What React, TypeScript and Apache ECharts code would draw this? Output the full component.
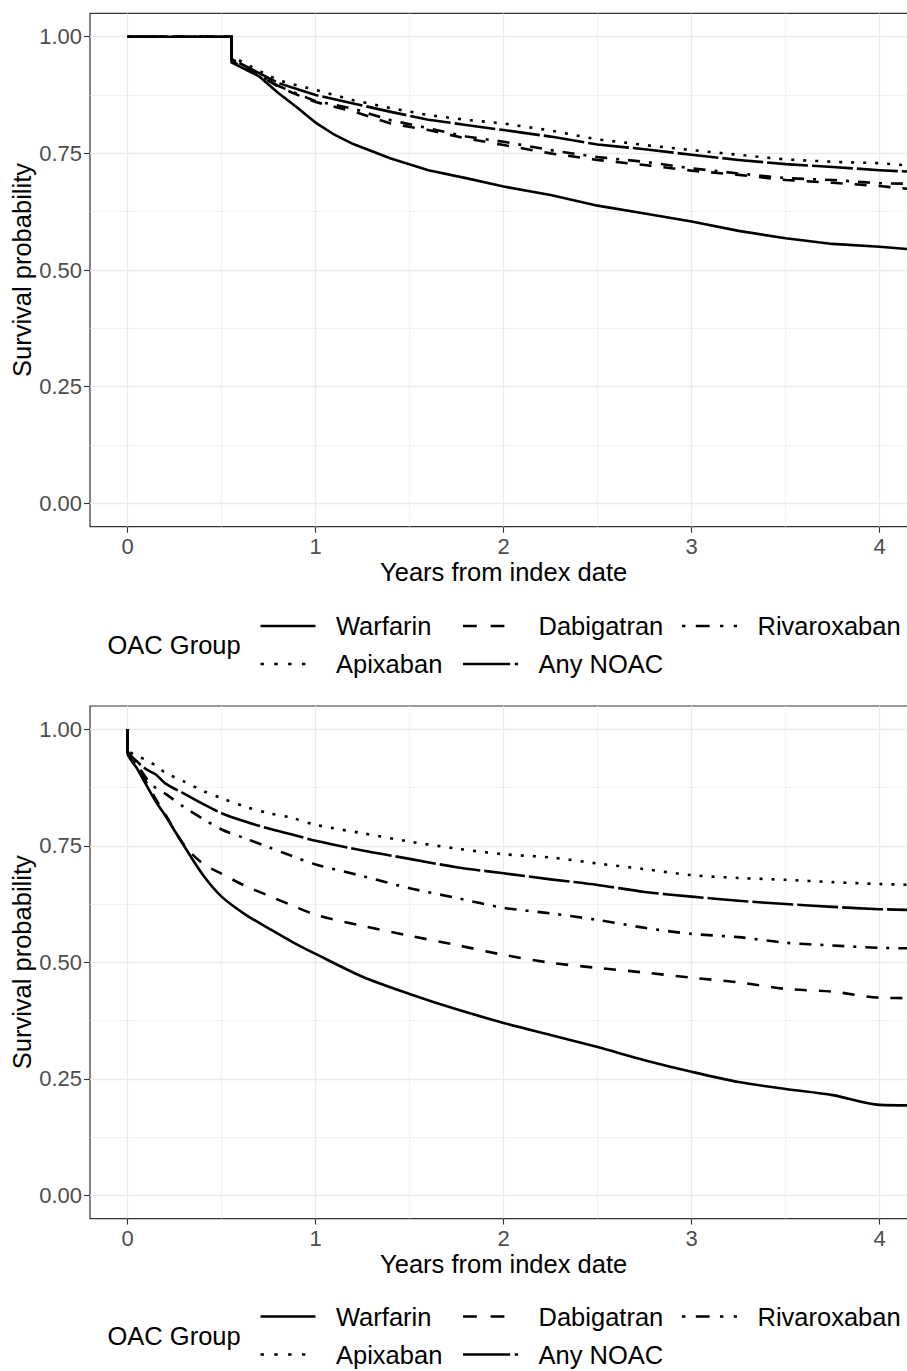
import React, { useEffect, useRef } from "react";
import * as echarts from "echarts";

// ---------- data ----------
const seriesNames = ["Warfarin", "Dabigatran", "Rivaroxaban", "Apixaban", "Any NOAC"];
const legendTitle = "OAC Group";
const xTitle = "Years from index date";
const yTitle = "Survival probability";

const xTickValues = [0, 1, 2, 3, 4];
const xMinorValues = [0.5, 1.5, 2.5, 3.5];
const yTickValues = [0, 0.25, 0.5, 0.75, 1];
const yMinorValues = [0.125, 0.375, 0.625, 0.875];

// Panel 1
const topTimes = [0, 0.553, 0.553, 0.7, 0.8, 0.9, 1.0, 1.1, 1.2, 1.4, 1.6, 1.8, 2.0, 2.25, 2.5, 2.75, 3.0, 3.25, 3.5, 3.75, 4.0, 4.15, 4.2];
const topWarfarin = [1, 1, 0.945, 0.915, 0.88, 0.849, 0.816, 0.79, 0.77, 0.739, 0.714, 0.697, 0.679, 0.661, 0.638, 0.621, 0.604, 0.584, 0.568, 0.556, 0.55, 0.545, 0.545];
const topDabigatran = [1, 1, 0.95, 0.918, 0.893, 0.876, 0.86, 0.85, 0.84, 0.814, 0.8, 0.782, 0.768, 0.75, 0.736, 0.725, 0.713, 0.704, 0.693, 0.687, 0.68, 0.674, 0.674];
const topRivaroxaban = [1, 1, 0.948, 0.918, 0.895, 0.878, 0.862, 0.854, 0.846, 0.821, 0.804, 0.786, 0.775, 0.757, 0.742, 0.732, 0.718, 0.707, 0.697, 0.693, 0.686, 0.685, 0.685];
const topApixaban = [1, 1, 0.958, 0.927, 0.907, 0.896, 0.886, 0.875, 0.864, 0.847, 0.832, 0.822, 0.814, 0.799, 0.78, 0.768, 0.757, 0.747, 0.737, 0.732, 0.729, 0.724, 0.724];
const topAnyNoac = [1, 1, 0.952, 0.922, 0.901, 0.888, 0.875, 0.866, 0.857, 0.839, 0.822, 0.811, 0.8, 0.786, 0.769, 0.759, 0.747, 0.736, 0.727, 0.721, 0.714, 0.711, 0.711];

// Panel 2
const bottomTimes = [0, 0, 0.05, 0.1, 0.15, 0.2, 0.3, 0.4, 0.5, 0.625, 0.75, 0.875, 1.0, 1.25, 1.5, 1.75, 2.0, 2.25, 2.5, 2.75, 3.0, 3.25, 3.5, 3.75, 4.0, 4.2];
const bottomWarfarin = [1, 0.95, 0.916, 0.88, 0.845, 0.815, 0.75, 0.688, 0.641, 0.603, 0.573, 0.544, 0.518, 0.469, 0.432, 0.399, 0.37, 0.344, 0.318, 0.29, 0.265, 0.243, 0.228, 0.215, 0.194, 0.193];
const bottomDabigatran = [1, 0.95, 0.92, 0.886, 0.85, 0.818, 0.752, 0.712, 0.69, 0.664, 0.643, 0.622, 0.602, 0.578, 0.557, 0.537, 0.516, 0.499, 0.488, 0.478, 0.467, 0.457, 0.443, 0.437, 0.424, 0.423];
const bottomRivaroxaban = [1, 0.952, 0.925, 0.895, 0.874, 0.862, 0.833, 0.808, 0.785, 0.766, 0.747, 0.728, 0.71, 0.685, 0.659, 0.638, 0.617, 0.605, 0.591, 0.574, 0.561, 0.554, 0.542, 0.536, 0.531, 0.53];
const bottomApixaban = [1, 0.958, 0.943, 0.934, 0.922, 0.907, 0.888, 0.868, 0.852, 0.834, 0.82, 0.81, 0.795, 0.777, 0.759, 0.744, 0.732, 0.725, 0.712, 0.7, 0.687, 0.681, 0.677, 0.672, 0.668, 0.666];
const bottomAnyNoac = [1, 0.955, 0.931, 0.914, 0.903, 0.884, 0.862, 0.84, 0.82, 0.802, 0.787, 0.774, 0.761, 0.74, 0.722, 0.704, 0.691, 0.678, 0.666, 0.651, 0.641, 0.632, 0.625, 0.619, 0.614, 0.612];

// ---------- styles ----------
const FONT = '"Liberation Sans", Arial, Helvetica, sans-serif';
const TICK_FS = 22;
const TEXT_FS = 25.5;
const LW = 2.6;
const dashes: Record<string, any> = {
  Warfarin: "solid",
  Dabigatran: [12, 12],
  Rivaroxaban: [3, 9, 12, 9],
  Apixaban: [3, 9],
  "Any NOAC": [41, 4],
};
const legendScale = 1.15;

function buildOption() {
  const panels = [
    { top: 13.4, height: 513.3, smooth: false, dy: 0, times: topTimes, values: [topWarfarin, topDabigatran, topRivaroxaban, topApixaban, topAnyNoac] },
    { top: 706, height: 512.6, smooth: 0.3, dy: 690.5, times: bottomTimes, values: [bottomWarfarin, bottomDabigatran, bottomRivaroxaban, bottomApixaban, bottomAnyNoac] },
  ];
  const gridLeft = 90;
  const gridWidth = 827.2;

  const grid: any[] = [];
  const xAxis: any[] = [];
  const yAxis: any[] = [];
  const series: any[] = [];
  const graphic: any[] = [];

  panels.forEach((p, g) => {
    grid.push({
      left: gridLeft,
      top: p.top,
      width: gridWidth,
      height: p.height,
      show: true,
      borderColor: "#333333",
      borderWidth: 1.2,
      backgroundColor: "#ffffff",
      containLabel: false,
      outerBoundsMode: "none",
    });
    xAxis.push({
      type: "value",
      gridIndex: g,
      min: -0.2,
      max: 4.2,
      position: "bottom",
      axisLine: { show: false, onZero: false },
      axisTick: { show: true, customValues: xTickValues, length: 6, lineStyle: { color: "#333333", width: 1.1 } },
      axisLabel: { customValues: xTickValues, margin: 9, fontSize: TICK_FS, color: "#4D4D4D", fontFamily: FONT },
      splitLine: { show: true, lineStyle: { color: "#EBEBEB", width: 1.3 } },
    });
    xAxis.push({
      type: "value",
      gridIndex: g,
      min: -0.2,
      max: 4.2,
      position: "bottom",
      axisLine: { show: false, onZero: false },
      axisTick: { show: false, customValues: xMinorValues },
      axisLabel: { show: false },
      splitLine: { show: true, lineStyle: { color: "#EBEBEB", width: 0.7 } },
    });
    yAxis.push({
      type: "value",
      gridIndex: g,
      min: -0.05,
      max: 1.05,
      position: "left",
      axisLine: { show: false, onZero: false },
      axisTick: { show: true, customValues: yTickValues, length: 6, lineStyle: { color: "#333333", width: 1.1 } },
      axisLabel: {
        customValues: yTickValues,
        margin: 8,
        fontSize: TICK_FS,
        color: "#4D4D4D",
        fontFamily: FONT,
        formatter: (v: number) => v.toFixed(2),
      },
      splitLine: { show: true, lineStyle: { color: "#EBEBEB", width: 1.3 } },
    });
    yAxis.push({
      type: "value",
      gridIndex: g,
      min: -0.05,
      max: 1.05,
      position: "left",
      axisLine: { show: false, onZero: false },
      axisTick: { show: false, customValues: yMinorValues },
      axisLabel: { show: false },
      splitLine: { show: true, lineStyle: { color: "#EBEBEB", width: 0.7 } },
    });

    seriesNames.forEach((name, i) => {
      series.push({
        type: "line",
        name: name,
        xAxisIndex: 2 * g,
        yAxisIndex: 2 * g,
        showSymbol: false,
        symbol: "none",
        clip: true,
        silent: true,
        smooth: p.smooth,
        z: 3,
        lineStyle: { color: "#000000", width: LW, type: dashes[name], cap: "butt", join: "miter" },
        data: p.times.map((t, k) => [t, p.values[i][k]]),
      });
    });

    const dy = p.dy;
    // axis titles
    graphic.push({
      type: "text",
      x: gridLeft + gridWidth / 2,
      y: p.top + p.height + 45.5,
      style: { text: xTitle, font: `${TEXT_FS}px ${FONT}`, fill: "#000000", align: "center", verticalAlign: "middle", textAlign: "center", textVerticalAlign: "middle" },
    });
    graphic.push({
      type: "text",
      x: 22,
      y: p.top + p.height / 2,
      rotation: Math.PI / 2,
      style: { text: yTitle, font: `${TEXT_FS}px ${FONT}`, fill: "#000000", align: "center", verticalAlign: "middle", textAlign: "center", textVerticalAlign: "middle" },
    });
    // legend
    graphic.push({
      type: "text",
      x: 107.5,
      y: 645 + dy,
      style: { text: legendTitle, font: `${TEXT_FS}px ${FONT}`, fill: "#000000", align: "left", verticalAlign: "middle", textAlign: "left", textVerticalAlign: "middle" },
    });
    const keyPos = [
      { x: 260.5, row: 0 },
      { x: 463, row: 0 },
      { x: 682, row: 0 },
      { x: 260.5, row: 1 },
      { x: 463, row: 1 },
    ];
    seriesNames.forEach((name, i) => {
      const kp = keyPos[i];
      const y = (kp.row === 0 ? 626 : 664) + dy;
      const d = dashes[name];
      graphic.push({
        type: "line",
        shape: { x1: kp.x, y1: y, x2: kp.x + 55, y2: y },
        style: {
          stroke: "#000000",
          lineWidth: LW,
          lineDash: d === "solid" ? null : d.map((v: number) => v * legendScale),
          lineCap: "butt",
        },
      });
      graphic.push({
        type: "text",
        x: kp.x + 75.5,
        y: y,
        style: { text: name, font: `${TEXT_FS}px ${FONT}`, fill: "#000000", align: "left", verticalAlign: "middle", textAlign: "left", textVerticalAlign: "middle" },
      });
    });
  });

  return {
    animation: false,
    backgroundColor: "#ffffff",
    grid,
    xAxis,
    yAxis,
    series,
    graphic,
  };
}

export default function App() {
  const ref = useRef<HTMLDivElement>(null);
  useEffect(() => {
    if (!ref.current) return;
    const chart = echarts.init(ref.current, undefined, { renderer: "svg" });
    chart.setOption(buildOption() as any);
    return () => {
      chart.dispose();
    };
  }, []);
  return (
    <div
      style={{
        position: "fixed",
        left: 0,
        top: 0,
        width: 907,
        height: 1371,
        overflow: "hidden",
        background: "#ffffff",
      }}
    >
      <div ref={ref} style={{ width: 940, height: 1371 }} />
    </div>
  );
}
